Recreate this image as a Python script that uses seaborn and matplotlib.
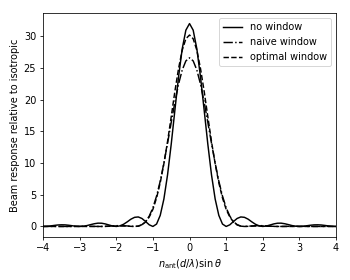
import matplotlib
matplotlib.use("Agg")
import matplotlib.pyplot as plt
import seaborn as sns
import pandas as pd

# sample positions, n_ant (d/lambda) sin(theta)
x = [-4.0, -3.9, -3.8, -3.7, -3.6, -3.5, -3.4, -3.3, -3.2, -3.1,
     -3.0, -2.9, -2.8, -2.7, -2.6, -2.5, -2.4, -2.3, -2.2, -2.1,
     -2.0, -1.9, -1.8, -1.7, -1.6, -1.5, -1.4, -1.3, -1.2, -1.1,
     -1.0, -0.9, -0.8, -0.7, -0.6, -0.5, -0.4, -0.3, -0.2, -0.1,
     0.0,
     0.1, 0.2, 0.3, 0.4, 0.5, 0.6, 0.7, 0.8, 0.9, 1.0,
     1.1, 1.2, 1.3, 1.4, 1.5, 1.6, 1.7, 1.8, 1.9, 2.0,
     2.1, 2.2, 2.3, 2.4, 2.5, 2.6, 2.7, 2.8, 2.9, 3.0,
     3.1, 3.2, 3.3, 3.4, 3.5, 3.6, 3.7, 3.8, 3.9, 4.0]

no_window = [0.0, 0.02, 0.08, 0.16, 0.23, 0.26, 0.25, 0.19, 0.11, 0.03,
             0.0, 0.04, 0.14, 0.29, 0.43, 0.52, 0.51, 0.40, 0.23, 0.07,
             0.0, 0.09, 0.35, 0.73, 1.15, 1.44, 1.50, 1.26, 0.78, 0.26,
             0.0, 0.38, 1.75, 4.33, 8.15, 12.97, 18.33, 23.58, 28.01, 30.96,
             32.0,
             30.96, 28.01, 23.58, 18.33, 12.97, 8.15, 4.33, 1.75, 0.38, 0.0,
             0.26, 0.78, 1.26, 1.50, 1.44, 1.15, 0.73, 0.35, 0.09, 0.0,
             0.07, 0.23, 0.40, 0.51, 0.52, 0.43, 0.29, 0.14, 0.04, 0.0,
             0.03, 0.11, 0.19, 0.25, 0.26, 0.23, 0.16, 0.08, 0.02, 0.0]

naive_window = [0.01, 0.01, 0.01, 0.01, 0.0, 0.0, 0.0, 0.0, 0.01, 0.02,
                0.02, 0.03, 0.02, 0.02, 0.01, 0.0, 0.0, 0.02, 0.05, 0.09,
                0.12, 0.13, 0.12, 0.08, 0.03, 0.0, 0.05, 0.28, 0.77, 1.63,
                2.96, 4.80, 7.15, 10.00, 13.12, 16.41, 19.60, 22.44, 24.67, 26.11,
                26.6,
                26.11, 24.67, 22.44, 19.60, 16.41, 13.12, 10.00, 7.15, 4.80, 2.96,
                1.63, 0.77, 0.28, 0.05, 0.0, 0.03, 0.08, 0.12, 0.13, 0.12,
                0.09, 0.05, 0.02, 0.0, 0.0, 0.01, 0.02, 0.02, 0.03, 0.02,
                0.02, 0.01, 0.0, 0.0, 0.0, 0.0, 0.01, 0.01, 0.01, 0.01]

optimal_window = [0.0, 0.0, 0.0, 0.0, 0.0, 0.0, 0.0, 0.0, 0.0, 0.0,
                  0.0, 0.0, 0.0, 0.0, 0.0, 0.0, 0.0, 0.01, 0.03, 0.05,
                  0.07, 0.08, 0.07, 0.05, 0.02, 0.0, 0.05, 0.25, 0.7, 1.5,
                  2.7, 4.5, 6.9, 9.9, 13.4, 17.3, 21.3, 24.9, 27.8, 29.6,
                  30.2,
                  29.6, 27.8, 24.9, 21.3, 17.3, 13.4, 9.9, 6.9, 4.5, 2.7,
                  1.5, 0.7, 0.25, 0.05, 0.0, 0.02, 0.05, 0.07, 0.08, 0.07,
                  0.05, 0.03, 0.01, 0.0, 0.0, 0.0, 0.0, 0.0, 0.0, 0.0,
                  0.0, 0.0, 0.0, 0.0, 0.0, 0.0, 0.0, 0.0, 0.0, 0.0]

df = pd.DataFrame({"x": x, "no": no_window, "naive": naive_window,
                   "optimal": optimal_window})

fig, ax = plt.subplots(figsize=(5, 4), dpi=70)
sns.lineplot(data=df, x="x", y="no", color="k", linestyle="-",
             label="no window", ax=ax)
sns.lineplot(data=df, x="x", y="naive", color="k", linestyle="-.",
             label="naive window", ax=ax)
sns.lineplot(data=df, x="x", y="optimal", color="k", linestyle="--",
             label="optimal window", ax=ax)

ax.set_xlim(-4, 4)
ax.set_xlabel(r"$n_{\mathrm{ant}}(d/\lambda)\sin\theta$")
ax.set_ylabel("Beam response relative to isotropic")
ax.legend(loc="upper right")

plt.subplots_adjust(left=0.123, right=0.96, top=0.952, bottom=0.155)
plt.savefig("out.png")
